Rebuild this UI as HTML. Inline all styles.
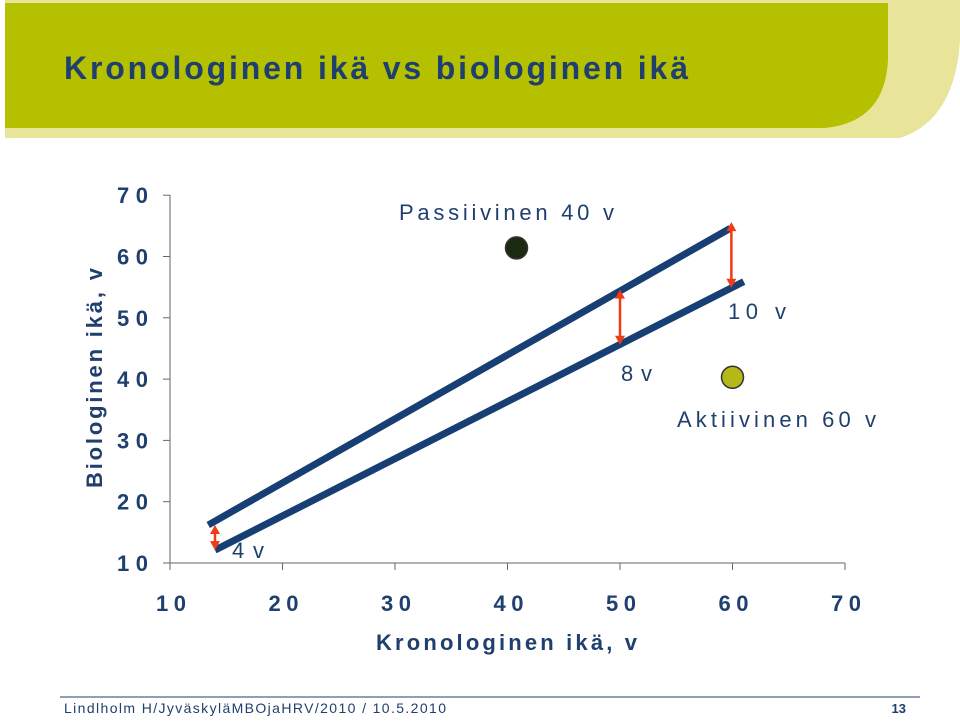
<!DOCTYPE html>
<html><head><meta charset="utf-8"><style>
body{margin:0;background:#fff;width:960px;height:716px;overflow:hidden;font-family:"Liberation Sans",sans-serif}
</style></head><body>
<svg width="960" height="716" viewBox="0 0 960 716">
<path d="M5,0 H960 V40 Q955,120 900,138 H5 Z" fill="#e8e59a"/>
<path d="M5,3 H888 V60 Q885,122 825,128 H5 Z" fill="#b5c000"/>
<text x="64" y="79" font-size="32" font-weight="bold" fill="#1f3f6e" textLength="624" lengthAdjust="spacing">Kronologinen ikä vs biologinen ikä</text>
<g id="chart"></g>
<text transform="translate(102,378) rotate(-90)" text-anchor="middle" font-size="22" font-weight="bold" fill="#1f3f6e" textLength="220" lengthAdjust="spacing">Biologinen ikä, v</text>
<text x="376" y="650" font-size="22" font-weight="bold" fill="#1f3f6e" textLength="261" lengthAdjust="spacing">Kronologinen ikä, v</text>
<text x="399" y="220" font-size="22" fill="#1f3f6e" textLength="215" lengthAdjust="spacing">Passiivinen 40 v</text>
<text x="677" y="427" font-size="22" fill="#1f3f6e" textLength="199" lengthAdjust="spacing">Aktiivinen 60 v</text>
<text x="728" y="319" font-size="22" fill="#1f3f6e" textLength="58" lengthAdjust="spacing">10 v</text>
<text x="621" y="381" font-size="22" fill="#1f3f6e" textLength="31" lengthAdjust="spacing">8v</text>
<text x="232" y="558" font-size="22" fill="#1f3f6e" textLength="32" lengthAdjust="spacing">4v</text>
<line x1="60" y1="697" x2="920" y2="697" stroke="#1f3f6e" stroke-width="1"/>
<text x="64" y="713" font-size="14" fill="#1f3f6e" textLength="382" lengthAdjust="spacing">Lindlholm H/JyväskyläMBOjaHRV/2010 / 10.5.2010</text>
<text x="906" y="713" text-anchor="end" font-size="13" font-weight="bold" fill="#1f3f6e">13</text>
</svg>
<script>
const xTicks=[10,20,30,40,50,60,70];
const yTicks=[10,20,30,40,50,60,70];
const upperLine=[[13.4,16.2],[59.8,64.6]];
const lowerLine=[[14,12.1],[61,55.9]];
const arrowX=[14,50,59.9];
const arrowTop=[16.2,54.6,65.6];
const arrowBottom=[12.1,45.6,54.9];
const pointX=[40.8,60];
const pointY=[61.4,40.3];
const pointColors=["#1a2a10","#b5b816"];
const NS="http://www.w3.org/2000/svg";
const g=document.getElementById('chart');
const X=v=>170+(v-10)*11.25;
const Y=v=>563-(v-10)*6.13;
function mk(t,a){const e=document.createElementNS(NS,t);for(const k in a)e.setAttribute(k,a[k]);g.appendChild(e);return e;}
let e=mk('line',{x1:170,y1:195,x2:170,y2:563,stroke:'#666','stroke-width':1});


e=mk('line',{x1:170,y1:563,x2:845,y2:563,stroke:'#666','stroke-width':1});


yTicks.forEach(v=>{
 let t=mk('line',{x1:163,y1:Y(v),x2:170,y2:Y(v),stroke:'#666'});
 
 
 let l=mk('text',{x:117,y:Y(v)+8,'font-size':22,'font-weight':'bold',fill:'#1f3f6e',textLength:31,lengthAdjust:'spacing'});
 l.textContent=v;
 
 
});
xTicks.forEach(v=>{
 let t=mk('line',{x1:X(v),y1:563,x2:X(v),y2:570,stroke:'#666'});
 
 
 let l=mk('text',{x:X(v)-14,y:611,'font-size':22,'font-weight':'bold',fill:'#1f3f6e',textLength:30,lengthAdjust:'spacing'});
 l.textContent=v;
 
 
});
[[upperLine,'upper-age-line'],[lowerLine,'lower-age-line']].forEach(([d,n])=>{
 let l=mk('line',{x1:X(d[0][0]),y1:Y(d[0][1]),x2:X(d[1][0]),y2:Y(d[1][1]),stroke:'#173f73','stroke-width':7});
 
 
});
arrowX.forEach((v,i)=>{
 const x=X(v),t=Y(arrowTop[i]),b=Y(arrowBottom[i]);
 let l=mk('line',{x1:x,y1:t+6,x2:x,y2:b-6,stroke:'#f03c14','stroke-width':2.5});
 
 
 let h1=mk('polygon',{points:`${x-5},${t+9} ${x+5},${t+9} ${x},${t}`,fill:'#f03c14'});
 
 
 let h2=mk('polygon',{points:`${x-5},${b-9} ${x+5},${b-9} ${x},${b}`,fill:'#f03c14'});
 
 
});
pointX.forEach((v,i)=>{
 let c=mk('circle',{cx:X(v),cy:Y(pointY[i]),r:11,fill:pointColors[i],stroke:'#333','stroke-width':1.5});
 
 
});
</script>
</body></html>
